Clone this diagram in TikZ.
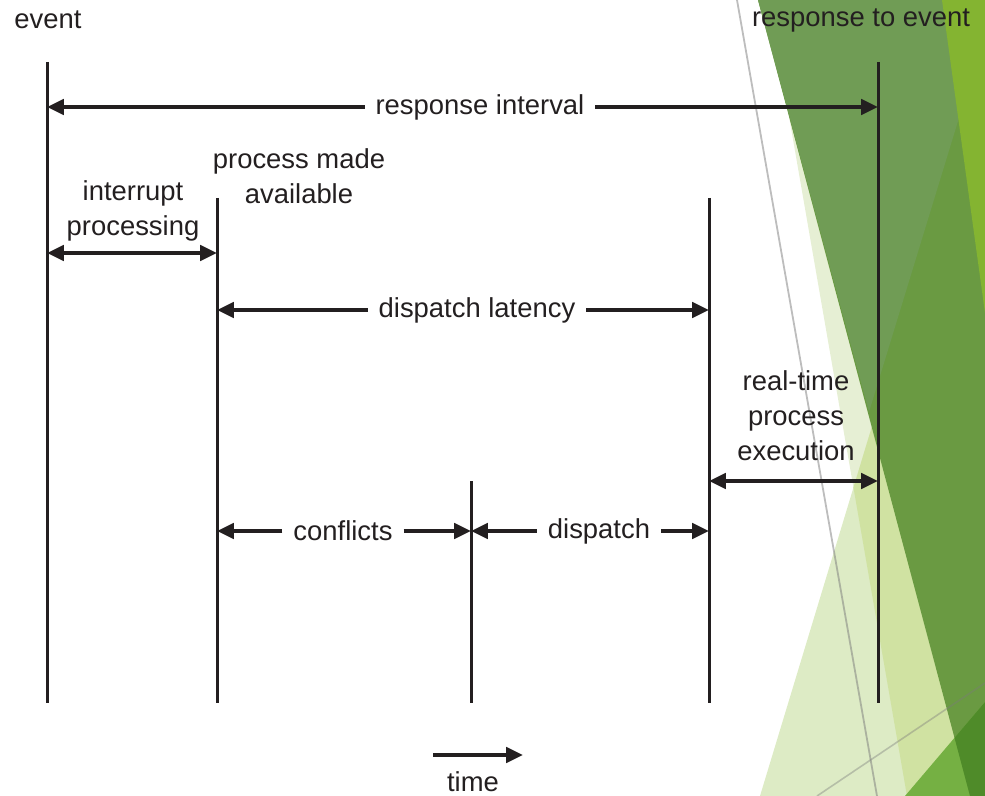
\documentclass[tikz,border=0pt]{standalone}
\usepackage{fontspec}
\setmainfont{Liberation Sans}
\usetikzlibrary{arrows.meta}
\definecolor{ink}{HTML}{231F20}
\definecolor{paleA}{HTML}{E6EFD4}
\definecolor{paleB}{HTML}{DDEBC5}
\definecolor{paleAB}{HTML}{D0E2A2}
\definecolor{leaf}{HTML}{6A9A42}
\definecolor{leafhi}{HTML}{709C55}
\definecolor{lime}{HTML}{84B431}
\definecolor{limeB}{HTML}{75B043}
\definecolor{deep}{HTML}{4F8B29}
\definecolor{streak}{HTML}{7B7B7B}
\begin{document}
\begin{tikzpicture}[x=0.25mm, y=-0.25mm, line join=round, >={Triangle[length=4.2mm,width=3.8mm]}, font=\fontsize{19.5}{24.9}\selectfont, ink]
	\tikzset{tick/.style={line width=0.75mm}, dim/.style={line width=1mm,->}, lbl/.style={inner xsep=2.7mm, inner ysep=0pt, align=center}}
	\useasboundingbox (0,0) rectangle (985,796);
	% background facets
	\fill[paleA] (786,99) -- (907,796) -- (985,796) -- (985,99) -- cycle;
	\fill[paleB] (760,796) -- (880,400) -- (985,300) -- (985,796) -- cycle;
	\begin{scope}
		\clip (786,99) -- (907,796) -- (985,796) -- (985,99) -- cycle;
		\fill[paleAB] (760,796) -- (880,400) -- (985,300) -- (985,796) -- cycle;
	\end{scope}
	\fill[leaf] (758,0) -- (985,0) -- (985,796) -- (970,796) -- cycle;
	\fill[leafhi] (758,0) -- (985,0) -- (985,33) -- (869,412) -- cycle;
	\fill[lime] (942,0) -- (985,0) -- (985,313) -- cycle;
	\fill[limeB] (905,796) -- (985,702) -- (985,796) -- cycle;
	\begin{scope}
		\clip (758,0) -- (985,0) -- (985,796) -- (970,796) -- cycle;
		\fill[deep] (905,796) -- (985,702) -- (985,796) -- cycle;
	\end{scope}
	\draw[streak, opacity=0.5, line width=0.45mm] (737,0) -- (877,796);
	\draw[streak, opacity=0.4, line width=0.4mm] (817,796) -- (985,683);
	% time lines
	\path (47,62) coordinate (E) (47,703) coordinate (Eb)
		(217,198) coordinate (P) (217,703) coordinate (Pb)
		(471,481) coordinate (C) (471,703) coordinate (Cb)
		(709,198) coordinate (D) (709,703) coordinate (Db)
		(878,62) coordinate (R) (878,703) coordinate (Rb)
		(433,755) coordinate (T0) (523,755) coordinate (T1);
	\foreach \t/\b in {E/Eb,P/Pb,C/Cb,D/Db,R/Rb}
		\draw[tick] (\t) -- (\b);
	% labels
	\node (ev) at (48,20) {event};
	\node (re) at (861,20) {response to event};
	\node[lbl] (ip) at (133,211) {interrupt\\processing};
	\node[lbl] (pm) at (299,176) {process made\\available};
	\node[lbl] (rt) at (796,416) {real-time\\process\\execution};
	\node[lbl] (ri) at (480,107) {response interval};
	\node[lbl] (dl) at (477,310) {dispatch latency};
	\node[lbl] (cf) at (343,531) {conflicts};
	\node[lbl] (dp) at (599,531) {dispatch};
	\node (tm) at (473,782) {time};
	% intervals
	\draw[dim] (ri) -- (ri -| E);
	\draw[dim] (ri) -- (ri -| R);
	\draw[dim,<->] (E |- 0,253) -- (P |- 0,253);
	\draw[dim] (dl) -- (dl -| P);
	\draw[dim] (dl) -- (dl -| D);
	\draw[dim,<->] (D |- 0,481) -- (R |- 0,481);
	\draw[dim] (cf) -- (cf -| P);
	\draw[dim] (cf) -- (cf -| C);
	\draw[dim] (dp) -- (dp -| C);
	\draw[dim] (dp) -- (dp -| D);
	\draw[dim] (T0) -- (T1);
\end{tikzpicture}
\end{document}
